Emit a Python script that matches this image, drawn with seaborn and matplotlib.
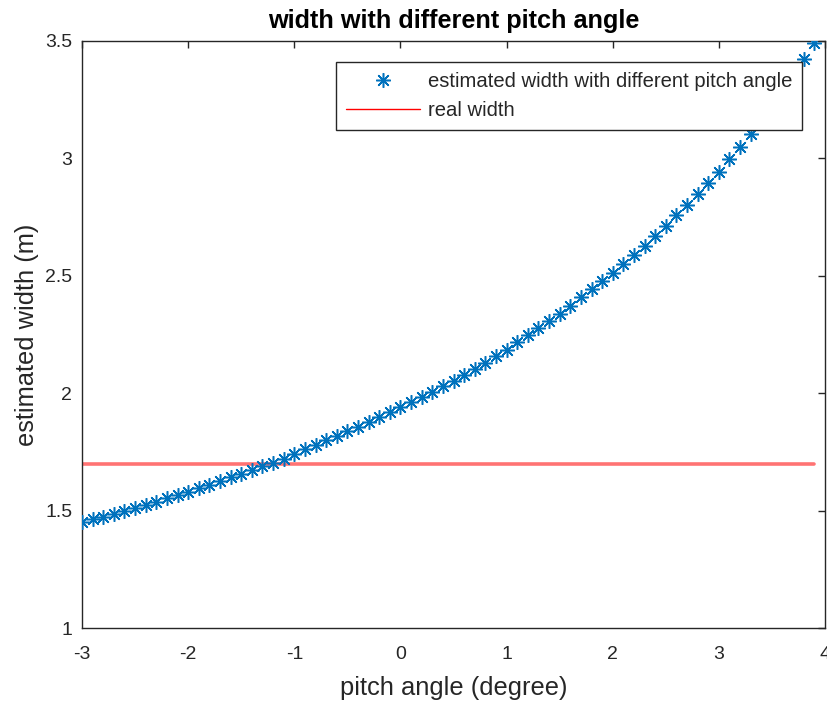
import numpy as np
import pandas as pd
import matplotlib
matplotlib.use("Agg")
import matplotlib.pyplot as plt
from matplotlib.lines import Line2D
import seaborn as sns

# pitch angle grid (degree)
pitch = np.round(np.arange(-3.0, 3.95, 0.1), 1)

# estimated width (m) at each pitch angle
est_width = [
    1.453, 1.463, 1.474, 1.486, 1.498, 1.512, 1.524, 1.538, 1.552, 1.566,
    1.581, 1.595, 1.611, 1.626, 1.642, 1.656, 1.671, 1.689, 1.704, 1.720,
    1.741, 1.761, 1.781, 1.800, 1.819, 1.840, 1.858, 1.877, 1.897, 1.918,
    1.941, 1.963, 1.984, 2.006, 2.029, 2.054, 2.079, 2.104, 2.130, 2.157,
    2.186, 2.216, 2.246, 2.276, 2.306, 2.338, 2.373, 2.408, 2.442, 2.476,
    2.512, 2.550, 2.589, 2.628, 2.670, 2.714, 2.757, 2.801, 2.847, 2.894,
    2.943, 2.997, 3.050, 3.104, 3.160, 3.220, 3.290, 3.355, 3.422, 3.490,
]

# ground truth width (m)
real_width = 1.7

x_ticks = [-3, -2, -1, 0, 1, 2, 3, 4]
y_ticks = [1, 1.5, 2, 2.5, 3, 3.5]
y_tick_labels = ["1", "1.5", "2", "2.5", "3", "3.5"]

df = pd.DataFrame({"pitch": pitch, "width": est_width,
                   "real": [real_width] * len(pitch)})

sns.set_theme(style="white")
plt.rcParams["font.family"] = ["Liberation Sans", "DejaVu Sans"]

axis_color = "#262626"
blue = "#0072BD"
star = (8, 2, 0)

fig = plt.figure(figsize=(8.27, 7.02), dpi=100)
ax = fig.add_axes([0.0992, 0.1054, 0.8984, 0.8362])

sns.lineplot(data=df, x="pitch", y="width", ax=ax, color=blue,
             linestyle="none", marker=star, markersize=10.5,
             markeredgewidth=1.1, markeredgecolor=blue, zorder=3)
sns.lineplot(data=df, x="pitch", y="real", ax=ax, color="red",
             alpha=0.55, linewidth=2.6, zorder=2)

ax.set_xlim(-3, 4)
ax.set_ylim(1, 3.5)
ax.set_xticks(x_ticks)
ax.set_xticklabels([str(t) for t in x_ticks])
ax.set_yticks(y_ticks)
ax.set_yticklabels(y_tick_labels)

ax.tick_params(direction="in", length=5, width=1, colors=axis_color,
               labelsize=14, top=True, right=True)
ax.tick_params(axis="x", pad=13)
ax.tick_params(axis="y", pad=7)
for s in ax.spines.values():
    s.set_color(axis_color)
    s.set_linewidth(1.0)
    s.set_visible(True)

ax.set_xlabel("pitch angle (degree)", fontsize=18.4, color=axis_color)
ax.set_ylabel("estimated width (m)", fontsize=18.4, color=axis_color)
ax.xaxis.set_label_coords(0.5, -0.102)
ax.yaxis.set_label_coords(-0.074, 0.5)
ax.xaxis.label.set_verticalalignment("center")
ax.yaxis.label.set_verticalalignment("center")
ax.text(0.5, 1.034, "width with different pitch angle", transform=ax.transAxes,
        ha="center", va="center", fontsize=18.2, fontweight="bold",
        color="black")

handles = [
    Line2D([], [], color=blue, linestyle="none", marker=star,
           markersize=10.5, markeredgewidth=1.1),
    Line2D([], [], color="red", linewidth=1.0),
]
labels = ["estimated width with different pitch angle", "real width"]
leg = ax.legend(handles, labels, loc="upper left",
                bbox_to_anchor=(0.3419, 0.9642), borderaxespad=0,
                frameon=True, fancybox=False, framealpha=1, fontsize=14.6,
                handlelength=3.65, handletextpad=0.36, borderpad=0.5,
                labelspacing=0.5, edgecolor=axis_color)
leg.set_zorder(5)
leg.get_frame().set_linewidth(1.0)
for t in leg.get_texts():
    t.set_color(axis_color)

fig.savefig("out.png", dpi=100, facecolor="white")
